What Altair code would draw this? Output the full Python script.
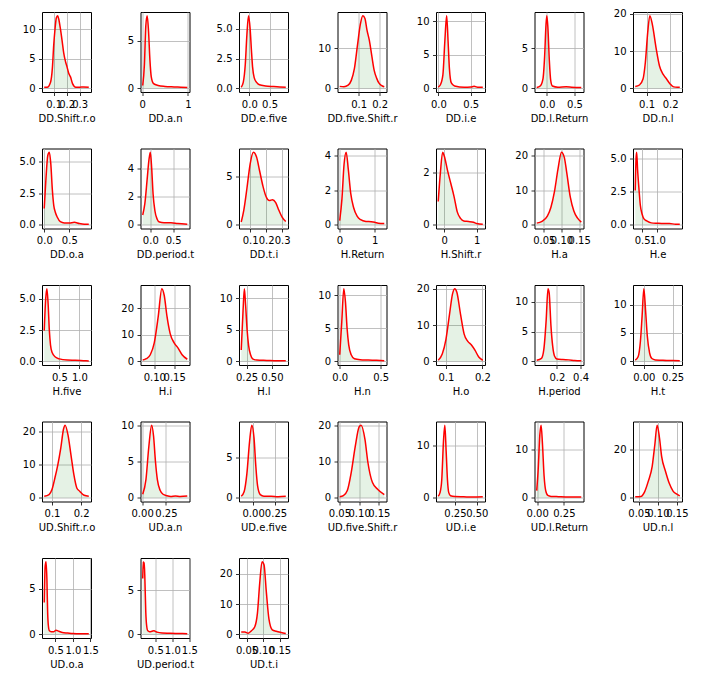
import altair as alt
import pandas as pd

NAMES = [
    "DD.Shift.r.o", "DD.a.n", "DD.e.five", "DD.five.Shift.r", "DD.i.e", "DD.l.Return", "DD.n.l",
    "DD.o.a", "DD.period.t", "DD.t.i", "H.Return", "H.Shift.r", "H.a", "H.e",
    "H.five", "H.i", "H.l", "H.n", "H.o", "H.period", "H.t",
    "UD.Shift.r.o", "UD.a.n", "UD.e.five", "UD.five.Shift.r", "UD.i.e", "UD.l.Return", "UD.n.l",
    "UD.o.a", "UD.period.t", "UD.t.i",
]

# density curves (x, y)
x_DD_Shift_r_o = [0.027, 0.05, 0.075, 0.09, 0.10, 0.11, 0.12, 0.13, 0.14, 0.15, 0.165, 0.177, 0.19, 0.203, 0.215, 0.23, 0.245, 0.27, 0.30, 0.33, 0.37]
y_DD_Shift_r_o = [0.2, 0.2, 1.0, 3.5, 7.3, 10.0, 11.9, 12.3, 11.6, 10.3, 8.0, 6.0, 4.6, 3.6, 2.6, 1.9, 0.8, 0.2, 0.2, 0.25, 0.2]
x_DD_a_n = [0.013, 0.05, 0.08, 0.11, 0.14, 0.17, 0.20, 0.25, 0.35, 0.5, 0.7, 0.85, 0.988]
y_DD_a_n = [0.3, 2.5, 6.5, 7.6, 6.0, 3.0, 1.2, 0.5, 0.3, 0.2, 0.15, 0.12, 0.1]
x_DD_e_five = [-0.20, -0.15, -0.10, -0.06, -0.02, 0.02, 0.05, 0.08, 0.12, 0.18, 0.25, 0.40, 0.60, 0.75, 0.90]
y_DD_e_five = [0.1, 0.5, 2.0, 4.5, 6.1, 5.0, 3.3, 1.8, 0.9, 0.5, 0.3, 0.2, 0.15, 0.12, 0.1]
x_DD_five_Shift_r = [0.01, 0.03, 0.05, 0.065, 0.08, 0.095, 0.108, 0.12, 0.13, 0.14, 0.151, 0.163, 0.174, 0.186, 0.197, 0.21, 0.222]
y_DD_five_Shift_r = [0.5, 0.4, 0.8, 2.0, 5.0, 11.0, 16.0, 18.2, 17.5, 14.5, 12.0, 8.0, 4.5, 2.5, 1.3, 0.7, 0.4]
x_DD_i_e = [-0.002, 0.03, 0.07, 0.10, 0.128, 0.15, 0.17, 0.20, 0.25, 0.40, 0.50, 0.55, 0.62, 0.685]
y_DD_i_e = [0.2, 0.5, 2.0, 7.0, 10.8, 7.0, 3.0, 0.8, 0.35, 0.15, 0.2, 0.3, 0.15, 0.15]
x_DD_l_Return = [-0.183, -0.12, -0.07, -0.04, -0.015, 0.0, 0.02, 0.045, 0.07, 0.10, 0.20, 0.35, 0.45, 0.623]
y_DD_l_Return = [0.1, 0.3, 1.2, 4.0, 8.0, 9.1, 7.5, 3.5, 1.0, 0.3, 0.15, 0.2, 0.15, 0.1]
x_DD_n_l = [0.052, 0.07, 0.085, 0.095, 0.105, 0.114, 0.125, 0.14, 0.155, 0.17, 0.185, 0.20, 0.215, 0.23, 0.241]
y_DD_n_l = [0.5, 0.9, 2.5, 7.0, 15.0, 19.5, 17.0, 11.0, 6.0, 3.8, 2.5, 1.2, 0.4, 0.3, 0.3]
x_DD_o_a = [-0.002, 0.03, 0.07, 0.10, 0.13, 0.16, 0.19, 0.22, 0.26, 0.32, 0.40, 0.50, 0.60, 0.70, 0.80, 0.889]
y_DD_o_a = [1.3, 3.5, 5.5, 5.75, 4.8, 2.8, 1.5, 1.0, 0.6, 0.25, 0.15, 0.15, 0.2, 0.1, 0.05, 0.05]
x_DD_period_t = [-0.166, -0.12, -0.07, -0.03, 0.0, 0.03, 0.06, 0.10, 0.15, 0.20, 0.30, 0.45, 0.60, 0.808]
y_DD_period_t = [0.7, 1.5, 3.2, 4.6, 5.15, 4.0, 2.2, 1.0, 0.4, 0.2, 0.15, 0.15, 0.1, 0.05]
x_DD_t_i = [0.044, 0.06, 0.08, 0.10, 0.12, 0.14, 0.16, 0.18, 0.20, 0.22, 0.24, 0.26, 0.28, 0.30, 0.323]
y_DD_t_i = [0.3, 1.5, 3.8, 6.3, 7.5, 7.0, 5.5, 4.0, 2.9, 2.5, 2.6, 2.3, 1.5, 0.8, 0.35]
x_H_Return = [0.007, 0.07, 0.13, 0.19, 0.25, 0.32, 0.40, 0.50, 0.60, 0.75, 0.90, 1.00, 1.10, 1.27]
y_H_Return = [0.25, 1.5, 3.5, 4.2, 3.2, 1.8, 1.0, 0.5, 0.3, 0.2, 0.18, 0.15, 0.1, 0.08]
x_H_Shift_r = [-0.186, -0.12, -0.05, 0.0, 0.10, 0.20, 0.30, 0.40, 0.50, 0.60, 0.75, 0.90, 1.00, 1.186]
y_H_Shift_r = [0.9, 2.0, 2.8, 2.65, 2.1, 1.6, 1.1, 0.5, 0.25, 0.15, 0.13, 0.1, 0.05, 0.02]
x_H_a = [0.030, 0.045, 0.06, 0.07, 0.08, 0.09, 0.10, 0.108, 0.115, 0.125, 0.135, 0.145, 0.156]
y_H_a = [0.5, 1.0, 2.5, 5.0, 9.5, 16.0, 21.0, 19.5, 15.0, 8.0, 4.0, 2.0, 0.8]
x_H_e = [0.273, 0.30, 0.32, 0.35, 0.40, 0.44, 0.50, 0.56, 0.65, 0.80, 1.00, 1.20, 1.40, 1.60, 1.737]
y_H_e = [2.6, 5.0, 5.5, 4.2, 2.6, 1.5, 0.8, 0.45, 0.3, 0.15, 0.12, 0.1, 0.1, 0.05, 0.05]
x_H_five = [0.123, 0.16, 0.19, 0.22, 0.25, 0.28, 0.32, 0.40, 0.50, 0.70, 0.90, 1.10, 1.234]
y_H_five = [2.45, 5.0, 5.8, 4.6, 2.5, 1.3, 0.7, 0.35, 0.2, 0.1, 0.08, 0.05, 0.03]
x_H_i = [0.071, 0.08, 0.09, 0.10, 0.11, 0.119, 0.125, 0.132, 0.14, 0.15, 0.16, 0.17, 0.183]
y_H_i = [0.5, 1.0, 2.5, 7.0, 17.0, 27.5, 25.0, 17.0, 10.5, 7.0, 5.0, 2.5, 0.8]
x_H_l = [0.197, 0.215, 0.228, 0.24, 0.255, 0.27, 0.29, 0.31, 0.35, 0.45, 0.55, 0.637]
y_H_l = [1.8, 8.0, 11.5, 9.0, 5.0, 2.5, 1.0, 0.4, 0.2, 0.15, 0.1, 0.1]
x_H_n = [0.0, 0.025, 0.05, 0.07, 0.09, 0.11, 0.14, 0.18, 0.25, 0.35, 0.45, 0.545]
y_H_n = [1.0, 6.0, 11.0, 9.0, 5.0, 2.5, 1.0, 0.4, 0.25, 0.2, 0.15, 0.1]
x_H_o = [0.079, 0.09, 0.10, 0.11, 0.118, 0.124, 0.13, 0.14, 0.15, 0.16, 0.17, 0.18, 0.19, 0.201]
y_H_o = [0.3, 2.0, 6.0, 13.0, 18.5, 20.0, 19.0, 13.0, 7.5, 5.5, 4.5, 3.0, 1.2, 0.3]
x_H_period = [0.03, 0.07, 0.09, 0.11, 0.125, 0.135, 0.15, 0.165, 0.18, 0.20, 0.25, 0.30, 0.35, 0.406]
y_H_period = [0.2, 0.5, 2.0, 7.0, 12.2, 11.5, 6.0, 2.5, 0.9, 0.4, 0.3, 0.25, 0.15, 0.1]
x_H_t = [-0.075, -0.05, -0.03, -0.015, 0.0, 0.015, 0.03, 0.05, 0.07, 0.10, 0.15, 0.20, 0.25, 0.313]
y_H_t = [0.2, 0.8, 3.5, 8.0, 12.8, 9.0, 4.5, 1.5, 0.5, 0.25, 0.2, 0.15, 0.15, 0.1]
x_UD_Shift_r_o = [0.0735, 0.09, 0.10, 0.11, 0.12, 0.13, 0.14, 0.145, 0.155, 0.165, 0.175, 0.185, 0.195, 0.21, 0.226]
y_UD_Shift_r_o = [0.5, 1.0, 2.5, 6.0, 10.0, 15.0, 21.0, 22.0, 19.0, 13.0, 7.0, 3.0, 2.0, 0.8, 0.5]
x_UD_a_n = [0.0063, 0.04, 0.07, 0.10, 0.12, 0.14, 0.16, 0.19, 0.22, 0.26, 0.30, 0.35, 0.40, 0.474]
y_UD_a_n = [0.5, 2.5, 7.0, 10.0, 8.5, 5.0, 2.5, 1.0, 0.5, 0.3, 0.2, 0.25, 0.2, 0.25]
x_UD_e_five = [-0.133, -0.10, -0.07, -0.04, -0.015, 0.01, 0.03, 0.05, 0.08, 0.12, 0.20, 0.28, 0.365]
y_UD_e_five = [0.2, 0.8, 3.0, 7.0, 9.1, 7.5, 4.0, 1.5, 0.4, 0.2, 0.2, 0.15, 0.2]
x_UD_five_Shift_r = [0.0507, 0.06, 0.07, 0.08, 0.09, 0.10, 0.105, 0.115, 0.122, 0.134, 0.147, 0.164]
y_UD_five_Shift_r = [0.3, 0.6, 2.0, 7.0, 14.0, 19.5, 20.0, 16.0, 10.0, 4.2, 2.4, 0.9]
x_UD_i_e = [0.0597, 0.08, 0.10, 0.12, 0.135, 0.15, 0.165, 0.18, 0.20, 0.25, 0.35, 0.45, 0.568]
y_UD_i_e = [0.3, 1.0, 3.5, 11.0, 14.0, 9.0, 3.5, 1.0, 0.4, 0.25, 0.2, 0.15, 0.2]
x_UD_l_Return = [-0.004, 0.01, 0.025, 0.037, 0.05, 0.065, 0.08, 0.10, 0.13, 0.20, 0.30, 0.413]
y_UD_l_Return = [1.5, 6.0, 13.0, 15.0, 11.0, 4.5, 1.5, 0.5, 0.3, 0.25, 0.2, 0.2]
x_UD_n_l = [0.0403, 0.055, 0.065, 0.075, 0.085, 0.092, 0.098, 0.104, 0.11, 0.12, 0.13, 0.14, 0.15, 0.1577]
y_UD_n_l = [0.5, 0.6, 2.5, 7.0, 13.0, 22.0, 30.0, 25.0, 17.0, 11.0, 6.0, 2.8, 1.5, 0.8]
x_UD_o_a = [0.183, 0.21, 0.235, 0.26, 0.28, 0.30, 0.33, 0.38, 0.45, 0.52, 0.60, 0.70, 0.85, 1.00, 1.20, 1.455]
y_UD_o_a = [3.5, 7.5, 8.0, 6.0, 2.5, 1.0, 0.4, 0.3, 0.3, 0.45, 0.35, 0.2, 0.15, 0.1, 0.08, 0.08]
x_UD_period_t = [0.13, 0.145, 0.16, 0.175, 0.195, 0.22, 0.245, 0.28, 0.33, 0.40, 0.46, 0.55, 0.70, 0.90, 1.10, 1.30, 1.44]
y_UD_period_t = [6.3, 8.2, 7.5, 8.1, 6.0, 2.5, 1.0, 0.4, 0.3, 0.35, 0.4, 0.25, 0.15, 0.12, 0.1, 0.1, 0.08]
x_UD_t_i = [0.0338, 0.045, 0.055, 0.065, 0.075, 0.083, 0.09, 0.097, 0.103, 0.11, 0.118, 0.128, 0.14, 0.155, 0.169]
y_UD_t_i = [0.8, 0.8, 0.4, 1.2, 2.5, 7.0, 17.0, 24.0, 23.0, 14.0, 5.0, 1.5, 1.0, 0.6, 0.3]

CURVES = [
    (x_DD_Shift_r_o, y_DD_Shift_r_o), (x_DD_a_n, y_DD_a_n), (x_DD_e_five, y_DD_e_five),
    (x_DD_five_Shift_r, y_DD_five_Shift_r), (x_DD_i_e, y_DD_i_e), (x_DD_l_Return, y_DD_l_Return),
    (x_DD_n_l, y_DD_n_l), (x_DD_o_a, y_DD_o_a), (x_DD_period_t, y_DD_period_t), (x_DD_t_i, y_DD_t_i),
    (x_H_Return, y_H_Return), (x_H_Shift_r, y_H_Shift_r), (x_H_a, y_H_a), (x_H_e, y_H_e),
    (x_H_five, y_H_five), (x_H_i, y_H_i), (x_H_l, y_H_l), (x_H_n, y_H_n), (x_H_o, y_H_o),
    (x_H_period, y_H_period), (x_H_t, y_H_t), (x_UD_Shift_r_o, y_UD_Shift_r_o), (x_UD_a_n, y_UD_a_n),
    (x_UD_e_five, y_UD_e_five), (x_UD_five_Shift_r, y_UD_five_Shift_r), (x_UD_i_e, y_UD_i_e),
    (x_UD_l_Return, y_UD_l_Return), (x_UD_n_l, y_UD_n_l), (x_UD_o_a, y_UD_o_a),
    (x_UD_period_t, y_UD_period_t), (x_UD_t_i, y_UD_t_i),
]

X_TICKS = [
    [0.1, 0.2, 0.3], [0, 1], [0.0, 0.5], [0.1, 0.2], [0.0, 0.5], [0.0, 0.5], [0.1, 0.2],
    [0.0, 0.5], [0.0, 0.5], [0.1, 0.2, 0.3], [0, 1], [0, 1], [0.05, 0.10, 0.15], [0.5, 1.0],
    [0.5, 1.0], [0.10, 0.15], [0.25, 0.50], [0.0, 0.5], [0.1, 0.2], [0.2, 0.4], [0.00, 0.25],
    [0.1, 0.2], [0.00, 0.25], [0.00, 0.25], [0.05, 0.10, 0.15], [0.25, 0.50], [0.00, 0.25], [0.05, 0.10, 0.15],
    [0.5, 1.0, 1.5], [0.5, 1.0, 1.5], [0.05, 0.10, 0.15],
]
X_FMT = [
    ".1f", "d", ".1f", ".1f", ".1f", ".1f", ".1f",
    ".1f", ".1f", ".1f", "d", "d", ".2f", ".1f",
    ".1f", ".2f", ".2f", ".1f", ".1f", ".1f", ".2f",
    ".1f", ".2f", ".2f", ".2f", ".2f", ".2f", ".2f",
    ".1f", ".1f", ".2f",
]
Y_TICKS = [
    [0, 5, 10], [0, 5], [0.0, 2.5, 5.0], [0, 10], [0, 5, 10], [0, 5], [0, 10, 20],
    [0.0, 2.5, 5.0], [0, 2, 4], [0, 5], [0, 2, 4], [0, 2], [0, 10, 20], [0.0, 2.5, 5.0],
    [0.0, 2.5, 5.0], [0, 10, 20], [0, 5, 10], [0, 5, 10], [0, 10, 20], [0, 5, 10], [0, 5, 10],
    [0, 10, 20], [0, 5, 10], [0, 5], [0, 10, 20], [0, 10], [0, 10], [0, 20],
    [0, 5], [0, 5], [0, 10, 20],
]
Y_FMT = [
    "d", "d", ".1f", "d", "d", "d", "d",
    ".1f", "d", "d", "d", "d", "d", ".1f",
    ".1f", "d", "d", "d", "d", "d", "d",
    "d", "d", "d", "d", "d", "d", "d",
    "d", "d", "d",
]


def panel(i):
    xs, ys = CURVES[i]
    df = pd.DataFrame({"x": xs, "y": ys})
    df["zero"] = 0.0
    lo, hi = min(xs), max(xs)
    r = hi - lo
    ymax = max(ys)
    xenc = alt.X(
        "x:Q",
        scale=alt.Scale(domain=[lo - 0.05 * r, hi + 0.05 * r], nice=False, zero=False),
        axis=alt.Axis(values=X_TICKS[i], format=X_FMT[i], title=NAMES[i]),
    )
    yenc = alt.Y(
        "y:Q",
        scale=alt.Scale(domain=[-0.05 * ymax, 1.05 * ymax], nice=False, zero=False),
        axis=alt.Axis(values=Y_TICKS[i], format=Y_FMT[i], title=None),
    )
    base = alt.Chart(df).encode(x=xenc, y=yenc)
    area = base.mark_area(color="green", opacity=0.1, interpolate="monotone").encode(
        y2=alt.Y2("zero:Q")
    )
    line = base.mark_line(color="red", strokeWidth=1.5, interpolate="monotone")
    return alt.layer(area, line).properties(width=49, height=80)


chart = alt.concat(
    *[panel(i) for i in range(len(NAMES))],
    columns=7,
    spacing={"row": 56.5, "column": 49.5},
    bounds="flush",
).properties(
    padding={"left": 10, "top": 0, "right": 5, "bottom": 0}
).configure_view(
    stroke="black", strokeWidth=1
).configure_axis(
    domain=False,
    grid=True,
    gridColor="#b0b0b0",
    gridWidth=0.8,
    tickColor="black",
    tickSize=3.5,
    tickWidth=0.8,
    labelColor="black",
    labelFont="DejaVu Sans",
    labelFontSize=10,
    labelPadding=3.5,
    labelOverlap=False,
    labelFlush=False,
    labelBound=False,
    titleFont="DejaVu Sans",
    titleFontSize=10,
    titleFontWeight="normal",
    titleColor="black",
    titlePadding=4,
)

chart.save("out.html", embed_options={"renderer": "svg", "actions": False})
